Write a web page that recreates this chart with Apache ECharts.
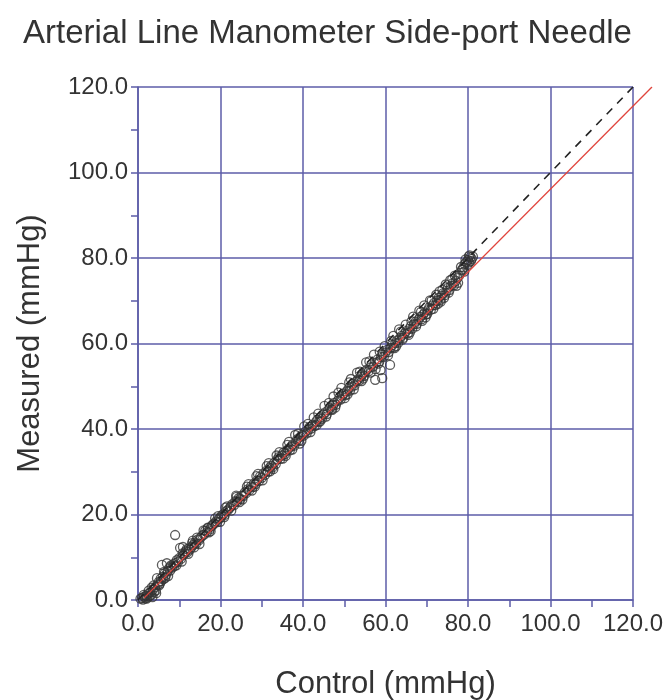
<!DOCTYPE html>
<html>
<head>
<meta charset="utf-8">
<script src="https://cdn.jsdelivr.net/npm/echarts@6/dist/echarts.min.js"></script>
<style>
  html, body { margin: 0; padding: 0; background: #fff; }
  #chart { width: 669px; height: 700px; }
</style>
</head>
<body>
<div id="chart"></div>
<script>
// axis ticks
const tickValues = [0, 20, 40, 60, 80, 100, 120]

// control vs measured (mmHg)
const readings = [
  [0.6,0.3],[1.0,0.5],[1.2,0.1],[1.5,0.8],[1.8,0.4],[2.0,1.0],[2.1,0.3],[2.3,0.6],[2.5,1.5],[2.8,0.9],
  [3.0,1.8],[3.2,1.2],[3.3,2.9],[3.5,0.7],[3.6,2.4],[3.9,1.9],[4.1,3.0],[4.3,2.2],[4.4,1.6],[4.6,5.1],
  [4.8,3.6],[5.0,4.2],[5.1,3.4],[5.3,3.8],[5.5,5.0],[5.8,8.2],[6.0,5.4],[6.2,4.9],[6.5,6.3],[6.6,5.2],
  [6.8,5.9],[7.0,8.6],[7.2,6.8],[7.3,5.6],[7.5,7.4],[7.8,6.9],[8.0,8.1],[8.3,7.6],[8.6,8.4],[8.8,7.9],
  [9.0,15.2],[9.1,8.7],[9.4,9.3],[9.7,8.9],[10.0,9.8],[10.2,12.2],[10.4,9.6],[10.6,9.0],[10.9,12.4],[11.0,10.5],
  [11.3,10.9],[11.6,11.4],[11.8,11.9],[12.0,11.2],[12.3,12.0],[12.6,11.8],[13.0,12.4],[13.1,13.3],[13.4,12.9],[13.6,12.3],
  [13.8,13.4],[14.1,13.2],[14.3,14.6],[14.5,14.2],[14.8,14.0],[15.2,14.6],[15.6,15.1],[16.0,15.3],[16.3,16.2],[16.7,15.9],
  [16.9,16.9],[17.0,16.8],[17.2,15.8],[17.4,16.5],[17.8,17.2],[18.1,17.6],[18.5,17.9],[18.9,18.4],[19.2,18.2],[19.4,19.6],
  [19.6,19.0],[20.0,19.3],[20.3,19.8],[20.7,20.1],[20.9,19.4],[21.0,19.9],[21.4,20.8],[21.6,21.9],[21.8,21.0],[22.2,21.5],
  [22.5,21.9],[22.9,22.4],[23.3,22.2],[23.6,23.1],[23.9,24.1],[24.0,23.0],[24.4,23.8],[24.6,22.9],[24.8,23.6],[25.1,24.4],
  [25.5,24.3],[25.9,25.2],[26.2,25.0],[26.4,26.5],[26.6,25.9],[27.0,25.7],[27.4,26.6],[27.8,26.4],[28.1,27.3],[28.3,26.5],
  [28.5,27.1],[28.7,29.0],[28.9,28.0],[29.3,27.8],[29.6,28.9],[30.0,28.6],[30.4,29.6],[30.8,29.3],[31.1,30.2],[31.2,31.3],
  [31.5,30.0],[31.9,30.9],[32.0,30.1],[32.3,31.4],[32.6,31.0],[33.0,32.1],[33.4,31.8],[33.6,33.8],[33.8,32.9],[34.1,33.4],
  [34.5,33.0],[34.9,33.8],[35.3,34.5],[35.6,34.1],[35.8,33.7],[36.0,34.9],[36.2,36.3],[36.4,35.3],[36.8,35.0],[37.1,35.9],
  [37.5,36.4],[37.9,36.1],[38.3,37.0],[38.6,37.6],[38.8,38.9],[39.0,37.3],[39.4,38.2],[39.6,37.2],[39.8,38.7],[40.1,38.4],
  [40.5,39.3],[40.9,39.0],[41.2,41.2],[41.3,39.8],[41.6,40.5],[42.0,40.1],[42.4,41.0],[42.8,40.7],[43.1,41.6],[43.3,40.9],
  [43.5,42.2],[43.7,43.6],[43.9,41.8],[44.3,42.7],[44.6,42.4],[45.0,43.4],[45.4,43.9],[45.8,43.5],[46.1,44.4],[46.3,46.1],
  [46.5,44.9],[46.9,44.6],[47.1,44.5],[47.3,45.5],[47.6,46.1],[48.0,45.7],[48.4,46.6],[48.6,48.5],[48.8,47.2],[49.1,46.9],
  [49.5,47.8],[49.9,48.3],[50.3,47.9],[50.6,48.8],[50.8,48.1],[51.0,49.4],[51.2,50.9],[51.4,49.0],[51.8,49.9],[52.1,50.6],
  [52.5,50.2],[52.9,51.1],[53.3,51.6],[53.6,51.3],[53.8,53.4],[54.0,52.2],[54.4,52.8],[54.6,51.8],[54.8,52.4],[55.1,53.3],
  [55.5,53.9],[55.9,53.5],[56.1,55.8],[56.3,54.4],[56.6,55.1],[57.0,54.6],[57.5,51.5],[57.8,55.6],[58.1,56.3],[58.3,55.3],
  [58.5,55.8],[58.6,58.1],[58.9,56.8],[59.2,51.9],[59.3,57.4],[59.6,56.9],[60.0,57.9],[60.4,58.5],[60.8,58.0],[61.1,55.0],
  [61.2,59.0],[61.4,60.6],[61.6,59.6],[62.0,59.1],[62.2,58.9],[62.4,60.1],[62.8,60.7],[63.1,60.2],[63.5,61.2],[63.7,62.8],
  [63.9,61.8],[64.3,61.3],[64.6,62.3],[65.0,62.9],[65.4,62.4],[65.8,63.4],[65.9,62.6],[66.1,64.0],[66.3,65.2],[66.5,63.5],
  [66.9,64.5],[67.3,65.1],[67.6,64.6],[68.0,65.6],[68.4,66.2],[68.6,67.4],[68.8,65.7],[69.1,66.7],[69.5,67.3],[69.7,66.1],
  [69.9,66.8],[70.3,67.8],[70.6,68.4],[71.0,67.9],[71.2,70.1],[71.4,68.9],[71.8,69.5],[72.1,69.0],[72.5,70.0],[72.9,70.7],
  [73.3,70.2],[73.4,69.8],[73.6,71.2],[73.8,72.6],[74.0,71.8],[74.4,71.3],[74.8,72.3],[75.1,73.0],[75.5,72.5],[75.9,73.5],
  [76.2,75.1],[76.3,74.1],[76.6,73.6],[77.0,74.6],[77.2,73.5],[77.4,75.3],[77.8,75.8],[78.1,76.5],[78.5,77.2],[78.7,77.3],
  [78.9,77.8],[79.2,78.6],[79.6,79.1],[79.9,78.4],[80.0,79.5],[80.3,79.0],[80.4,80.6],[80.6,80.2],[80.9,79.8],[81.2,80.3],
  [1.4,1.2],[2.6,2.2],[3.8,3.4],[5.6,4.4],[6.3,6.6],[7.9,7.8],[9.3,8.1],[10.8,10.9],[12.2,10.8],[13.3,13.9],
  [14.9,13.1],[15.9,16.3],[17.6,16.1],[18.7,19.1],[19.9,18.3],[21.2,21.6],[22.6,20.9],[23.8,24.4],[25.3,23.5],[26.8,27.1],
  [27.6,25.6],[29.1,29.5],[30.2,28.0],[31.7,32.0],[32.8,30.6],[34.3,34.6],[35.1,33.1],[36.6,37.0],[37.4,35.2],[38.1,38.6],
  [39.2,36.6],[40.3,40.6],[41.8,39.3],[42.6,42.7],[44.1,41.7],[45.2,45.4],[45.6,42.9],[47.4,47.6],[47.8,45.0],[49.3,49.6],
  [50.1,47.2],[51.6,51.7],[52.3,49.3],[53.1,53.2],[54.2,51.2],[55.3,55.6],[56.4,53.2],[57.2,57.4],[57.6,54.0],[58.8,53.8],
  [59.8,59.4],[60.6,57.2],[61.9,61.8],[62.6,59.4],[63.3,63.3],[64.1,60.9],[64.9,64.4],[65.6,62.0],[66.7,66.3],[67.4,64.0],
  [68.2,67.7],[68.9,65.3],[69.4,68.9],[70.1,66.9],[70.8,70.1],[71.6,68.1],[72.3,71.4],[72.7,69.3],[73.1,72.2],[74.2,70.7],
  [74.6,73.8],[75.3,71.9],[75.7,74.8],[76.8,75.9],[77.6,74.2],[78.3,77.9],[79.1,76.8],[79.4,79.7],[80.2,80.4],[80.7,79.3]
]

// line of identity and fitted line (end points)
const identityX = [0, 120]
const identityY = [0, 120]
const fitX = [1.5, 124.6]
const fitY = [0.5, 120]

const gridColor = '#5c5ca8'
const textColor = '#333333'
const fontFamily = 'Liberation Sans, Arial, sans-serif'

function axisBase(name) {
  return {
    type: 'value',
    gridIndex: 0,
    min: 0,
    max: 120,
    interval: 20,
    name: name,
    nameLocation: 'middle',
    nameTextStyle: { color: textColor, fontSize: 31, fontFamily: fontFamily },
    axisLine: { show: true, lineStyle: { color: gridColor, width: 1.5 } },
    axisTick: { show: true, inside: false, length: 7, lineStyle: { color: gridColor, width: 1.5 } },
    minorTick: { show: true, splitNumber: 2, length: 7, lineStyle: { color: gridColor, width: 1.5 } },
    splitLine: { show: true, lineStyle: { color: gridColor, width: 1.5 } },
    axisLabel: {
      color: textColor,
      fontSize: 24,
      fontFamily: fontFamily,
      formatter: function (v) { return tickValues.indexOf(v) >= 0 ? v.toFixed(1) : '' },
    },
  }
}

const xAxis = axisBase('Control (mmHg)')
xAxis.nameGap = 69
xAxis.axisLabel.margin = 12
const yAxis = axisBase('Measured (mmHg)')
yAxis.nameGap = 92
yAxis.axisLabel.margin = 10

// hidden axes on a slightly wider grid so the fitted line runs past the frame
const xAxisWide = { type: 'value', gridIndex: 1, min: 0, max: 125, show: false }
const yAxisWide = { type: 'value', gridIndex: 1, min: 0, max: 120, show: false }

const option = {
  animation: false,
  title: {
    text: 'Arterial Line Manometer Side-port Needle',
    left: 18,
    top: 12,
    textStyle: { color: textColor, fontSize: 33, fontWeight: 'normal', fontFamily: fontFamily },
  },
  grid: [
    { left: 138, top: 87, width: 495, height: 513, containLabel: false, outerBoundsMode: 'none' },
    { left: 138, top: 87, width: 495 * 125 / 120, height: 513, containLabel: false, outerBoundsMode: 'none' },
  ],
  xAxis: [xAxis, xAxisWide],
  yAxis: [yAxis, yAxisWide],
  series: [
    {
      type: 'scatter',
      data: readings,
      symbol: 'circle',
      symbolSize: 9,
      itemStyle: { color: 'rgba(255,255,255,0)', borderColor: '#333', borderWidth: 1.3 },
      z: 3,
    },
    {
      type: 'line',
      data: identityX.map(function (x, i) { return [x, identityY[i]] }),
      symbol: 'none',
      lineStyle: { color: '#222', width: 1.6, type: [8, 7] },
      z: 4,
    },
    {
      type: 'line',
      xAxisIndex: 1,
      yAxisIndex: 1,
      data: fitX.map(function (x, i) { return [x, fitY[i]] }),
      symbol: 'none',
      lineStyle: { color: '#e0443c', width: 1.3 },
      z: 5,
    },
  ],
}

let myChart = echarts.init(document.getElementById('chart'))
myChart.setOption(option, true)
</script>
</body>
</html>
